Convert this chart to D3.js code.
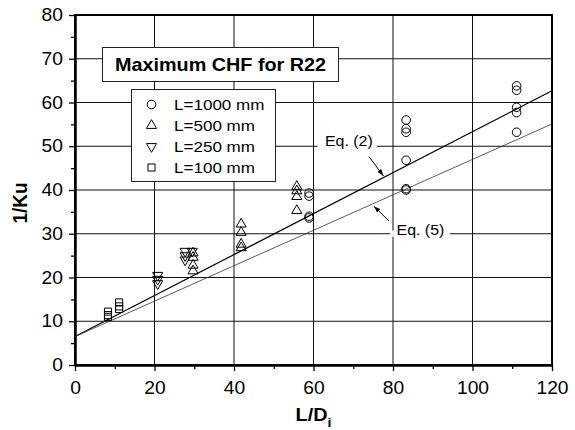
<!DOCTYPE html>
<html>
<head>
<meta charset="utf-8">
<script src="https://cdn.jsdelivr.net/npm/d3@7"></script>
<style>
  body { margin: 0; background: #fff; }
  text { font-family: Arial, "Liberation Sans", sans-serif; fill: #000; }
</style>
</head>
<body>
<div id="chart"></div>
<script>
// canvas
const width = 575,
  height = 430
const margin = {top: 15, right: 23, bottom: 65, left: 75}
const stretch = 1.1 // the original figure text is a bit wide

// tick values
const xTicks = [0, 20, 40, 60, 80, 100, 120]
const xMinor = [10, 30, 50, 70, 90, 110]
const yTicks = [0, 10, 20, 30, 40, 50, 60, 70, 80]
const yMinor = [5, 15, 25, 35, 45, 55, 65, 75]

// measured points [L/Di, 1/Ku]
const L1000 = [[58.9, 39.3], [58.9, 38.6], [58.9, 34.0], [58.9, 33.6],
  [83.3, 56.0], [83.3, 54.0], [83.3, 53.2], [83.3, 46.8], [83.3, 40.3], [83.3, 40.0],
  [111.1, 63.8], [111.1, 62.8], [111.1, 58.9], [111.1, 57.7], [111.1, 53.2]]
const L500 = [[29.7, 25.6], [29.7, 24.6], [29.7, 22.8], [29.7, 21.5],
  [41.8, 32.2], [41.8, 30.3], [41.8, 27.6], [41.8, 26.8],
  [55.8, 40.8], [55.8, 39.8], [55.8, 38.5], [55.8, 35.3]]
const L250 = [[20.8, 20.5], [20.8, 19.6], [20.8, 18.6],
  [27.7, 26.0], [27.7, 25.0], [27.7, 24.0], [29.5, 26.0]]
const L100 = [[8.3, 12.2], [8.3, 11.4], [8.3, 11.0],
  [11.1, 14.3], [11.1, 13.4], [11.1, 12.8]]

// correlation lines
const eq2 = [[0, 6.5], [120, 62.7]]
const eq5 = [[0, 6.5], [120, 55.1]]

const seriesNames = ['L=1000 mm', 'L=500 mm', 'L=250 mm', 'L=100 mm']

let svg = d3.select('#chart')
  .append('svg')
  .attr('width', width)
  .attr('height', height)

const x = d3.scaleLinear().domain([0, 120]).range([margin.left, width - margin.right])
const y = d3.scaleLinear().domain([0, 80]).range([height - margin.bottom, margin.top])

// grid
svg.append('g')
  .selectAll('line')
  .data(xTicks.slice(1, -1))
  .enter().append('line')
  .attr('x1', d => x(d)).attr('x2', d => x(d))
  .attr('y1', y(0)).attr('y2', y(80))
  .attr('stroke', '#111').attr('stroke-width', 1)

svg.append('g')
  .selectAll('line')
  .data(yTicks.slice(1, -1))
  .enter().append('line')
  .attr('x1', x(0)).attr('x2', x(120))
  .attr('y1', d => y(d)).attr('y2', d => y(d))
  .attr('stroke', '#111').attr('stroke-width', 1)

// gaps in grid behind the equation labels
svg.append('rect')
  .attr('x', x(61)).attr('y', y(50) - 3)
  .attr('width', x(76) - x(61)).attr('height', 6)
  .attr('fill', '#fff')
svg.append('rect')
  .attr('x', x(79.3)).attr('y', y(30) - 3)
  .attr('width', x(94.3) - x(79.3)).attr('height', 6)
  .attr('fill', '#fff')

// frame
svg.append('rect')
  .attr('x', x(0)).attr('y', y(80))
  .attr('width', x(120) - x(0)).attr('height', y(0) - y(80))
  .attr('fill', 'none').attr('stroke', '#000').attr('stroke-width', 2)

// axes
let xAxis = svg.append('g')
  .attr('transform', 'translate(0,' + y(0) + ')')
  .call(d3.axisBottom(x).tickValues(xTicks).tickSize(6).tickSizeOuter(0).tickPadding(11))
let yAxis = svg.append('g')
  .attr('transform', 'translate(' + x(0) + ',0)')
  .call(d3.axisLeft(y).tickValues(yTicks).tickSize(6).tickSizeOuter(0).tickPadding(5))
svg.append('g')
  .attr('transform', 'translate(0,' + y(0) + ')')
  .call(d3.axisBottom(x).tickValues(xMinor).tickSize(4).tickSizeOuter(0).tickFormat(''))
svg.append('g')
  .attr('transform', 'translate(' + x(0) + ',0)')
  .call(d3.axisLeft(y).tickValues(yMinor).tickSize(4).tickSizeOuter(0).tickFormat(''))

svg.selectAll('.domain').attr('stroke-width', 2)
svg.selectAll('.tick line').attr('stroke-width', 1.3)
;[xAxis, yAxis].forEach(a => {
  a.selectAll('text')
    .style('font-size', '17.5px')
    .style('font-family', 'Arial, "Liberation Sans", sans-serif')
    .attr('transform', 'scale(' + stretch + ',1)')
})

// axis titles
let xt = svg.append('text')
  .attr('transform', 'translate(' + x(60) + ',421) scale(' + stretch + ',1)')
  .attr('text-anchor', 'middle')
  .style('font-size', '18px')
  .style('font-weight', 'bold')
xt.append('tspan').text('L/D')
xt.append('tspan').attr('dy', 6).style('font-size', '13px').text('i')

svg.append('text')
  .attr('transform', 'translate(27,203) rotate(-90) scale(1,' + stretch + ')')
  .attr('text-anchor', 'middle')
  .style('font-size', '19px')
  .style('font-weight', 'bold')
  .text('1/Ku')

// correlation lines
let line = d3.line()
  .x(d => x(d[0]))
  .y(d => y(d[1]))

svg.append('path')
  .datum(eq2)
  .attr('d', line)
  .attr('fill', 'none').attr('stroke', '#000').attr('stroke-width', 1.2)
svg.append('path')
  .datum(eq5)
  .attr('d', line)
  .attr('fill', 'none').attr('stroke', '#333').attr('stroke-width', 0.8)

// symbols
const sym = {
  circle: d3.symbol().type(d3.symbolCircle).size(58)(),
  up: d3.symbol().type(d3.symbolTriangle).size(44)(),
  square: d3.symbol().type(d3.symbolSquare).size(50)()
}
const series = [
  {name: seriesNames[0], data: L1000, path: sym.circle, rot: 0},
  {name: seriesNames[1], data: L500, path: sym.up, rot: 0},
  {name: seriesNames[2], data: L250, path: sym.up, rot: 180},
  {name: seriesNames[3], data: L100, path: sym.square, rot: 0}
]

series.forEach(s => {
  svg.append('g')
    .selectAll('path')
    .data(s.data)
    .enter().append('path')
    .attr('d', s.path)
    .attr('transform', d => 'translate(' + x(d[0]) + ',' + y(d[1]) + ') rotate(' + s.rot + ')')
    .attr('fill', 'none')
    .attr('stroke', '#000')
    .attr('stroke-width', 1)
})

// arrows + equation labels
svg.append('defs').append('marker')
  .attr('id', 'arr')
  .attr('viewBox', '0 0 10 10')
  .attr('refX', 10).attr('refY', 5)
  .attr('markerWidth', 7).attr('markerHeight', 7)
  .attr('orient', 'auto-start-reverse')
  .append('path')
  .attr('d', 'M0,1.5 L10,5 L0,8.5 Z')
  .attr('fill', '#000')

svg.append('line')
  .attr('x1', x(74)).attr('y1', y(47.6))
  .attr('x2', x(77.6)).attr('y2', y(43.2))
  .attr('stroke', '#000').attr('stroke-width', 1)
  .attr('marker-end', 'url(#arr)')
svg.append('line')
  .attr('x1', x(79)).attr('y1', y(32.9))
  .attr('x2', x(75.2)).attr('y2', y(36.3))
  .attr('stroke', '#000').attr('stroke-width', 1)
  .attr('marker-end', 'url(#arr)')

svg.append('text')
  .attr('transform', 'translate(' + x(68.9) + ',' + (y(51.2) + 5) + ') scale(' + stretch + ',1)')
  .attr('text-anchor', 'middle')
  .style('font-size', '14.5px')
  .text('Eq. (2)')
svg.append('text')
  .attr('transform', 'translate(' + x(86.9) + ',' + (y(30.9) + 5) + ') scale(' + stretch + ',1)')
  .attr('text-anchor', 'middle')
  .style('font-size', '14.5px')
  .text('Eq. (5)')

// title box
svg.append('rect')
  .attr('x', 102.5).attr('y', 47.5)
  .attr('width', 236).attr('height', 34)
  .attr('fill', '#fff').attr('stroke', '#222').attr('stroke-width', 1)
svg.append('text')
  .attr('transform', 'translate(220.5,71) scale(' + stretch + ',1)')
  .attr('text-anchor', 'middle')
  .style('font-size', '18px')
  .style('font-weight', 'bold')
  .text('Maximum CHF for R22')

// legend
let legend = svg.append('g')
legend.append('rect')
  .attr('x', 131.5).attr('y', 89.5)
  .attr('width', 144).attr('height', 92)
  .attr('fill', '#fff').attr('stroke', '#222').attr('stroke-width', 1)

let items = legend.selectAll('g.item')
  .data(series)
  .enter().append('g')
  .attr('class', 'item')
  .attr('transform', (d, i) => 'translate(0,' + (104.5 + i * 21) + ')')

items.append('path')
  .attr('d', d => d.path)
  .attr('transform', d => 'translate(151.5,0) rotate(' + d.rot + ')')
  .attr('fill', 'none').attr('stroke', '#000').attr('stroke-width', 1)

items.append('text')
  .attr('transform', 'translate(174,5.5) scale(' + stretch + ',1)')
  .style('font-size', '15.5px')
  .text(d => d.name)
</script>
</body>
</html>
